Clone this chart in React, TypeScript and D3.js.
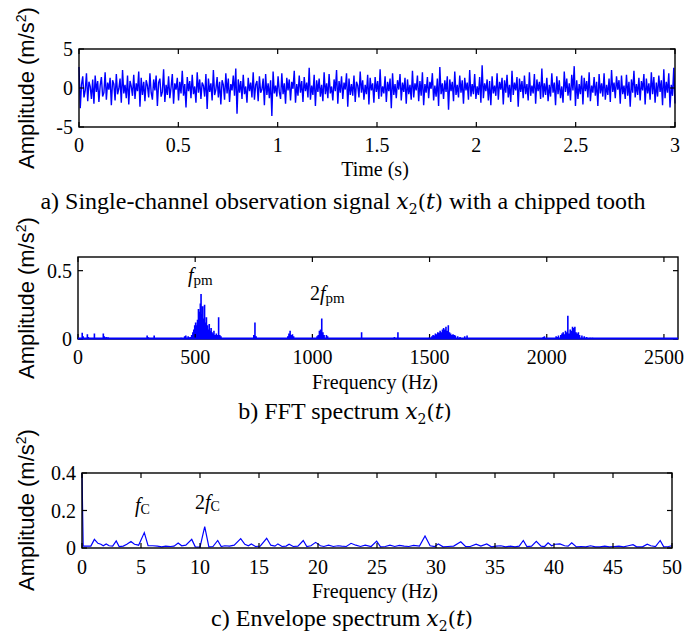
import React from "react";
import * as d3 from "d3";

// ---------- Data ----------
// (a) time signal x2(t), 0..3 s
const signalA: number[] = [
  2.7,-2.6,0.4,1.5,-1.2,-0.3,1.9,-1.7,0.8,0.2,-1.4,1.1,-2.0,1.6,-0.5,0.9,-1.8,0.3,1.4,-1.1,
  -0.6,2.0,-1.5,0.7,-0.2,1.3,-2.2,1.0,0.5,-1.6,1.8,-0.8,-0.1,1.2,-1.9,2.3,-0.7,0.4,-1.3,1.6,
  -2.1,0.9,0.2,-1.0,1.7,-1.4,0.6,-0.4,2.1,-2.4,1.3,-0.9,0.8,-1.7,1.0,0.3,-1.2,1.9,-0.6,-1.5,
  1.1,-0.3,1.6,-2.3,0.7,1.2,-1.1,-0.5,2.4,-1.8,0.4,-0.9,1.5,-1.3,0.1,1.8,-2.0,0.6,-0.2,1.3,
  -1.6,0.8,-0.7,2.2,-1.0,0.5,-2.5,1.4,-0.4,0.9,-1.3,1.7,-0.8,0.2,-1.9,2.0,-0.6,1.1,-1.4,0.7,
  0.3,-1.1,1.8,-2.7,1.2,-0.5,0.6,-1.6,2.3,-0.9,-0.2,1.4,-1.2,0.8,-2.1,1.0,0.4,-1.5,1.9,-0.7,
  1.2,-1.8,0.5,-0.3,1.6,-1.0,2.5,-3.3,1.1,-0.6,0.9,-1.4,1.7,-0.8,0.2,-1.9,1.3,-0.4,0.7,-1.2,
  2.0,-1.5,0.4,0.9,-1.7,1.5,-0.6,-0.2,1.2,-2.2,1.8,-0.9,0.6,-1.3,1.0,-3.6,2.1,-0.7,0.3,-1.1,
  1.5,-0.5,-1.4,1.9,-0.8,0.6,-2.0,1.3,-0.3,1.1,-1.6,0.8,-0.1,2.2,-1.9,0.5,-1.0,1.6,-0.6,0.9,
  -1.8,1.4,-0.4,0.7,-1.2,2.6,-1.5,0.3,-0.9,1.7,-2.3,1.0,-0.5,1.2,-1.1,0.4,-1.7,2.0,-0.8,0.6,
  -1.3,1.8,-0.7,0.2,-1.6,1.1,-0.4,2.3,-2.0,0.9,-0.6,1.5,-1.4,0.7,-0.2,1.9,-2.4,1.2,-0.9,0.5,
  -1.0,1.6,-1.8,0.8,0.3,-1.2,2.1,-0.6,1.0,-1.5,0.4,-0.8,1.7,-2.1,1.3,-0.3,0.6,-1.9,1.4,-0.5,
  0.9,-1.4,2.4,-1.1,0.2,-0.7,1.5,-1.8,0.8,-0.4,1.2,-2.6,1.9,-0.9,0.5,-1.3,1.0,-0.2,1.8,-1.6,
  0.7,-0.5,1.3,-2.0,1.1,-0.8,0.4,-1.5,2.2,-1.2,0.6,-0.3,1.6,-1.7,0.9,-1.0,2.0,-2.2,0.5,-0.6,
  1.4,-1.3,0.8,-0.1,1.9,-1.6,0.3,-1.1,1.2,-2.3,2.7,-0.8,0.6,-1.4,1.0,-0.5,1.5,-2.8,1.1,-0.4,
  0.8,-1.7,2.1,-0.9,0.4,-1.2,1.6,-0.6,1.0,-2.0,1.3,-0.3,0.7,-1.5,2.3,-1.1,0.5,-0.8,1.8,-1.4,
  0.2,-0.9,1.4,-1.9,2.9,-1.3,0.6,-0.4,1.1,-1.6,0.9,-2.2,1.5,-0.7,0.3,-1.0,1.9,-1.5,0.8,-0.2,
  1.3,-2.1,1.0,-0.6,1.7,-1.2,0.4,-1.8,2.2,-0.9,0.7,-0.3,1.4,-2.4,1.2,-0.5,0.9,-1.3,1.6,-0.8,
  0.5,-1.6,2.0,-1.0,0.3,-0.7,1.8,-2.0,1.1,-0.4,0.8,-1.4,2.5,-1.2,0.6,-0.9,1.3,-1.7,0.4,-1.1,
  1.9,-0.6,0.7,-2.2,1.5,-0.8,1.0,-1.3,0.2,-1.9,2.1,-0.5,1.2,-1.0,0.6,-1.6,1.7,-0.3,2.8,-2.3,
  1.0,-1.4,0.5,-0.8,1.6,-2.1,1.3,-0.4,0.9,-1.2,2.0,-1.7,0.3,-0.6,1.4,-1.0,0.8,-2.3,1.8,-0.7,
  0.6,-1.1,1.9,-1.5,0.4,-0.9,1.2,-1.8,2.3,-0.5,0.7,-1.3,1.5,-0.2,1.0,-2.0,1.6,-0.8,0.3,-1.4,
  1.7,-1.0,0.8,-2.4,1.1,-0.6,2.2,-1.2,0.5,-0.9,1.3,-1.6,0.9,-0.3,1.8,-2.1,1.2,-0.7,0.6,-1.5,
  2.0,-0.8,1.4,-1.9,0.7,-1.1,1.6,-0.5,1.0,-2.2,2.4,-1.3,0.8,-0.6,1.9,-2.5,0.4,-1.0,2.6,-2.0,
];
const durationA = 3;
const xTicksA = [0, 0.5, 1, 1.5, 2, 2.5, 3];
const yTicksA = [-5, 0, 5];

// (b) FFT spectrum: frequency (Hz) and amplitude
const fftFreq: number[] = [
  18,22,40,44,70,108,112,120,128,
  295,300,325,
  440,455,460,470,478,485,490,494,498,502,506,510,514,518,522,525,528,532,536,540,544,548,552,556,560,564,568,572,576,580,585,590,595,600,605,610,
  750,755,760,
  895,900,905,910,915,920,
  1020,1025,1030,1035,1040,1045,1050,1060,1065,
  1210,
  1350,1365,
  1500,1510,1515,1520,1525,1530,1535,1540,1545,1550,1555,1560,1565,1570,1575,1580,1585,1590,1595,1600,1605,1610,1620,1630,1650,1660,
  1985,1990,
  2040,2045,2050,2060,2065,2070,2075,2080,2085,2090,2095,2100,2105,2110,2115,2120,2125,2130,2135,2140,2150,2160,2170,2185,2195,
];
const fftAmp: number[] = [
  0.045,0.02,0.035,0.015,0.04,0.04,0.02,0.015,0.012,
  0.025,0.012,0.025,
  0.01,0.02,0.025,0.02,0.015,0.03,0.05,0.07,0.1,0.12,0.1,0.14,0.22,0.2,0.26,0.33,0.18,0.24,0.15,0.25,0.12,0.16,0.1,0.07,0.11,0.06,0.08,0.05,0.04,0.06,0.03,0.04,0.03,0.16,0.03,0.02,
  0.03,0.12,0.02,
  0.02,0.04,0.06,0.03,0.035,0.02,
  0.02,0.03,0.06,0.07,0.15,0.05,0.03,0.03,0.02,
  0.05,
  0.015,0.05,
  0.015,0.02,0.03,0.025,0.04,0.035,0.05,0.045,0.06,0.05,0.07,0.08,0.07,0.09,0.06,0.1,0.05,0.04,0.03,0.035,0.03,0.025,0.02,0.015,0.02,0.025,
  0.015,0.02,
  0.02,0.015,0.025,0.03,0.04,0.05,0.035,0.06,0.05,0.17,0.04,0.07,0.06,0.09,0.08,0.09,0.05,0.04,0.05,0.03,0.025,0.02,0.015,0.01,0.01,
];
const xTicksB = [0, 500, 1000, 1500, 2000, 2500];
const yTicksB = [0, 0.5];

// (c) Envelope spectrum
const envFreq: number[] = [
  0,0.1,0.75,1.05,1.35,1.6,1.8,2.05,2.3,2.6,2.9,3.15,3.5,3.8,4.15,4.45,4.8,5.28,5.6,6.0,6.4,6.75,7.1,7.5,7.8,8.15,8.45,8.8,9.3,9.6,
  10.0,10.4,10.75,11.1,11.5,11.8,12.1,12.5,12.9,13.45,13.8,14.1,14.35,14.7,15.1,15.65,16.0,16.35,16.6,16.95,17.3,17.55,17.9,18.3,18.75,19.05,19.4,19.8,
  20.2,20.5,20.9,21.3,21.7,22.0,22.4,22.8,23.2,23.6,24.0,24.5,24.97,25.3,25.7,26.1,26.5,26.9,27.3,27.7,28.1,28.6,29.07,29.5,29.9,
  30.2,30.6,31.0,31.5,32.1,32.5,32.9,33.4,33.8,34.3,34.7,35.1,35.5,35.9,36.3,36.7,37.05,37.4,37.7,38.1,38.5,38.9,39.2,39.5,39.8,
  40.1,40.5,40.9,41.2,41.5,41.9,42.3,42.7,43.1,43.5,43.9,44.3,44.7,45.1,45.5,45.9,46.3,46.7,47.0,47.5,47.9,48.2,48.6,49.0,49.3,49.7,50,
];
const envAmp: number[] = [
  0.4,0.01,0.01,0.046,0.025,0.02,0.012,0.022,0.012,0.01,0.038,0.008,0.01,0.02,0.035,0.02,0.015,0.082,0.012,0.012,0.01,0.006,0.01,0.008,0.01,0.027,0.012,0.015,0.046,0.006,
  0.005,0.114,0.006,0.008,0.04,0.008,0.012,0.01,0.015,0.05,0.02,0.012,0.022,0.008,0.01,0.052,0.015,0.01,0.022,0.008,0.01,0.02,0.008,0.01,0.04,0.008,0.012,0.03,
  0.012,0.008,0.015,0.008,0.012,0.01,0.008,0.025,0.015,0.008,0.015,0.008,0.037,0.006,0.008,0.015,0.008,0.014,0.01,0.008,0.014,0.01,0.064,0.012,0.008,
  0.022,0.006,0.008,0.01,0.033,0.008,0.008,0.02,0.01,0.022,0.006,0.01,0.012,0.006,0.01,0.006,0.01,0.04,0.008,0.01,0.035,0.01,0.008,0.028,0.012,
  0.02,0.022,0.012,0.01,0.028,0.006,0.008,0.006,0.012,0.006,0.006,0.01,0.006,0.008,0.01,0.006,0.012,0.018,0.006,0.006,0.02,0.012,0.008,0.04,0.006,0.008,0.012,
];
const xTicksC = [0, 5, 10, 15, 20, 25, 30, 35, 40, 45, 50];
const yTicksC = [0, 0.2, 0.4];

// ---------- Styling ----------
const BLUE = "#0000ff";
const SERIF = "'Times New Roman', 'Liberation Serif', serif";
const MATH = "'DejaVu Serif', 'Liberation Serif', serif";
const SANS = "Arial, 'Liberation Sans', sans-serif";
const TICK_FS = 20;
const CAP_FS = 24;
const TICK_LEN = 5;

type Box = { l: number; r: number; t: number; b: number };

function Frame({
  box, x, y, xTicks, yTicks, xLabelY,
}: {
  box: Box; x: d3.ScaleLinear<number, number>; y: d3.ScaleLinear<number, number>;
  xTicks: number[]; yTicks: number[]; xLabelY: number;
}) {
  return (
    <g>
      <rect x={box.l} y={box.t} width={box.r - box.l} height={box.b - box.t} fill="none" stroke="#000" strokeWidth={1.4} />
      {xTicks.map((v) => (
        <g key={"x" + v}>
          <line x1={x(v)} x2={x(v)} y1={box.b} y2={box.b - TICK_LEN} stroke="#000" strokeWidth={1.2} />
          <line x1={x(v)} x2={x(v)} y1={box.t} y2={box.t + TICK_LEN} stroke="#000" strokeWidth={1.2} />
          <text x={x(v)} y={xLabelY} textAnchor="middle" fontFamily={SERIF} fontSize={TICK_FS}>{String(v)}</text>
        </g>
      ))}
      {yTicks.map((v) => (
        <g key={"y" + v}>
          <line x1={box.l} x2={box.l + TICK_LEN} y1={y(v)} y2={y(v)} stroke="#000" strokeWidth={1.2} />
          <line x1={box.r} x2={box.r - TICK_LEN} y1={y(v)} y2={y(v)} stroke="#000" strokeWidth={1.2} />
          <text x={box.l - 6} y={y(v)} dy="0.35em" textAnchor="end" fontFamily={SERIF} fontSize={TICK_FS}>{String(v)}</text>
        </g>
      ))}
    </g>
  );
}

function YLabel({ cx, cy }: { cx: number; cy: number }) {
  return (
    <text transform={`translate(${cx},${cy}) rotate(-90)`} textAnchor="middle" fontFamily={SANS} fontSize={22}>
      Amplitude (m/s<tspan dy={-8} fontSize={14}>2</tspan><tspan dy={8}>)</tspan>
    </text>
  );
}

function Caption({ x, y, prefix, suffix }: { x: number; y: number; prefix: string; suffix?: string }) {
  return (
    <text x={x} y={y} textAnchor="middle" fontFamily={SERIF} fontSize={CAP_FS}>
      {prefix}
      <tspan fontFamily={MATH} fontStyle="italic" fontSize={22}>x</tspan>
      <tspan fontFamily={MATH} fontSize={14} dy={5}>2</tspan>
      <tspan fontFamily={MATH} fontSize={21} dy={-5}>(</tspan>
      <tspan fontFamily={MATH} fontStyle="italic" fontSize={22}>t</tspan>
      <tspan fontFamily={MATH} fontSize={21}>)</tspan>
      {suffix ? <tspan>{suffix}</tspan> : null}
    </text>
  );
}

export default function App() {
  // Panel a
  const boxA: Box = { l: 79, r: 675, t: 49, b: 127 };
  const xA = d3.scaleLinear().domain([0, durationA]).range([boxA.l, boxA.r]);
  const yA = d3.scaleLinear().domain([-5, 5]).range([boxA.b, boxA.t]);
  const stepA = durationA / (signalA.length - 1);
  const lineA = d3.line<number>().x((_, i) => xA(i * stepA)).y((d) => yA(d));

  // Panel b
  const boxB: Box = { l: 78, r: 678, t: 257, b: 339 };
  const xB = d3.scaleLinear().domain([0, 2560]).range([boxB.l, boxB.r]);
  const yB = d3.scaleLinear().domain([0, 0.6]).range([boxB.b, boxB.t]);
  const stemPath = fftFreq.map((f, i) => `M${xB(f)},${yB(0)}L${xB(f)},${yB(fftAmp[i])}`).join("");

  // Panel c
  const boxC: Box = { l: 82, r: 672, t: 473, b: 548 };
  const xC = d3.scaleLinear().domain([0, 50]).range([boxC.l, boxC.r]);
  const yC = d3.scaleLinear().domain([0, 0.4]).range([boxC.b, boxC.t]);
  const lineC = d3.line<number>().x((_, i) => xC(envFreq[i])).y((d) => yC(d));

  return (
    <svg width={684} height={635} style={{ position: "absolute", left: 0, top: 0, background: "#fff" }}>
      <rect x={0} y={0} width={684} height={635} fill="#fff" />
      {/* Panel a */}
      <path d={lineA(signalA) || ""} fill="none" stroke={BLUE} strokeWidth={1.4} strokeLinejoin="miter" />
      <Frame box={boxA} x={xA} y={yA} xTicks={xTicksA} yTicks={yTicksA} xLabelY={152} />
      <YLabel cx={34} cy={88} />
      <text x={375} y={176} textAnchor="middle" fontFamily={SERIF} fontSize={TICK_FS}>Time (s)</text>
      <Caption x={343} y={209} prefix="a) Single-channel observation signal " suffix=" with a chipped tooth" />

      {/* Panel b */}
      <path d={stemPath} fill="none" stroke={BLUE} strokeWidth={1.6} />
      <Frame box={boxB} x={xB} y={yB} xTicks={xTicksB} yTicks={yTicksB} xLabelY={364} />
      <line x1={boxB.l} x2={boxB.r} y1={yB(0) - 0.5} y2={yB(0) - 0.5} stroke={BLUE} strokeWidth={2} />
      <YLabel cx={34} cy={298} />
      <text x={188} y={282} fontFamily={SERIF} fontSize={20}>
        <tspan fontStyle="italic">f</tspan><tspan fontSize={15} dy={3}>pm</tspan>
      </text>
      <text x={310} y={300} fontFamily={SERIF} fontSize={20}>
        2<tspan fontStyle="italic">f</tspan><tspan fontSize={15} dy={3}>pm</tspan>
      </text>
      <text x={375} y={389} textAnchor="middle" fontFamily={SERIF} fontSize={TICK_FS}>Frequency (Hz)</text>
      <Caption x={345} y={419} prefix="b) FFT spectrum " />

      {/* Panel c */}
      <path d={lineC(envAmp) || ""} fill="none" stroke={BLUE} strokeWidth={1.2} />
      <Frame box={boxC} x={xC} y={yC} xTicks={xTicksC} yTicks={yTicksC} xLabelY={574} />
      <YLabel cx={34} cy={510} />
      <text x={135} y={512} fontFamily={SERIF} fontSize={20}>
        <tspan fontStyle="italic">f</tspan><tspan fontSize={14} dy={2}>C</tspan>
      </text>
      <text x={195} y={509} fontFamily={SERIF} fontSize={20}>
        2<tspan fontStyle="italic">f</tspan><tspan fontSize={14} dy={2}>C</tspan>
      </text>
      <text x={375} y={598} textAnchor="middle" fontFamily={SERIF} fontSize={TICK_FS}>Frequency (Hz)</text>
      <Caption x={342} y={626} prefix="c) Envelope spectrum " />
    </svg>
  );
}
